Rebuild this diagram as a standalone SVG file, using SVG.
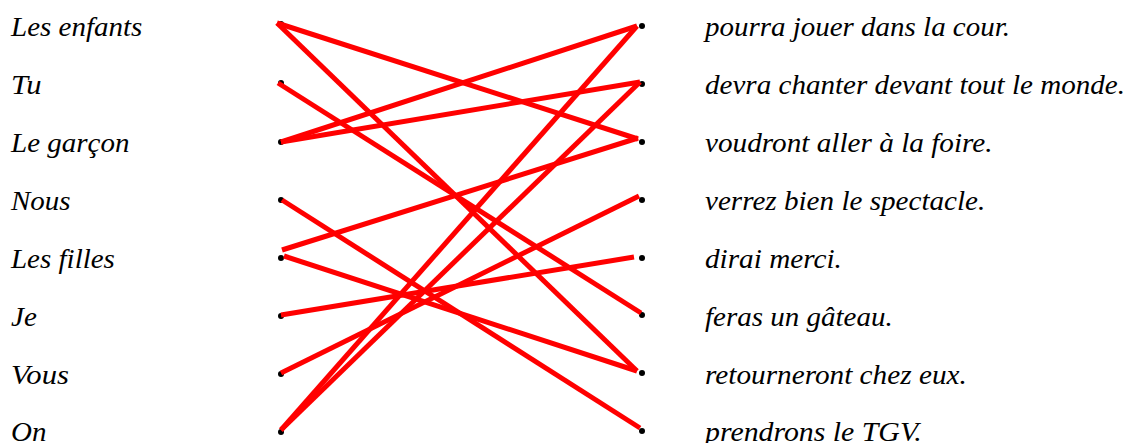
<svg xmlns="http://www.w3.org/2000/svg" width="1132" height="443" viewBox="0 0 1132 443">
<style>
text{font-family:"Liberation Serif","Times New Roman",serif;font-style:italic;font-size:27px;fill:#000}
.dot{fill:#000}
.ln{stroke:#ff0000;stroke-width:5;fill:none;stroke-linecap:butt}
</style>
<rect width="1132" height="443" fill="#fff"/>
<g id="left-1"><text x="11" y="35.5" textLength="131.3" lengthAdjust="spacingAndGlyphs">Les enfants</text><circle class="dot" cx="281" cy="24" r="3"/></g>
<g id="left-2"><text x="11" y="93.5" textLength="30.6" lengthAdjust="spacingAndGlyphs">Tu</text><circle class="dot" cx="281" cy="83" r="3"/></g>
<g id="left-3"><text x="11" y="152" textLength="118.4" lengthAdjust="spacingAndGlyphs">Le garçon</text><circle class="dot" cx="281" cy="142" r="3"/></g>
<g id="left-4"><text x="11" y="210" textLength="59.6" lengthAdjust="spacingAndGlyphs">Nous</text><circle class="dot" cx="281" cy="200" r="3"/></g>
<g id="left-5"><text x="11" y="268" textLength="103.9" lengthAdjust="spacingAndGlyphs">Les filles</text><circle class="dot" cx="281" cy="258" r="3"/></g>
<g id="left-6"><text x="11" y="326" textLength="25.8" lengthAdjust="spacingAndGlyphs">Je</text><circle class="dot" cx="281" cy="316" r="3"/></g>
<g id="left-7"><text x="11" y="384" textLength="58" lengthAdjust="spacingAndGlyphs">Vous</text><circle class="dot" cx="281" cy="374" r="3"/></g>
<g id="left-8"><text x="11" y="441" textLength="35.4" lengthAdjust="spacingAndGlyphs">On</text><circle class="dot" cx="281" cy="432" r="3"/></g>
<g id="right-1"><circle class="dot" cx="642" cy="26" r="3"/><text x="705" y="36" textLength="305" lengthAdjust="spacingAndGlyphs">pourra jouer dans la cour.</text></g>
<g id="right-2"><circle class="dot" cx="642" cy="84" r="3"/><text x="705" y="94" textLength="420" lengthAdjust="spacingAndGlyphs">devra chanter devant tout le monde.</text></g>
<g id="right-3"><circle class="dot" cx="642" cy="142" r="3"/><text x="705" y="152" textLength="287.6" lengthAdjust="spacingAndGlyphs">voudront aller à la foire.</text></g>
<g id="right-4"><circle class="dot" cx="642" cy="200" r="3"/><text x="705" y="210" textLength="280.3" lengthAdjust="spacingAndGlyphs">verrez bien le spectacle.</text></g>
<g id="right-5"><circle class="dot" cx="642" cy="258" r="3"/><text x="705" y="268" textLength="136.9" lengthAdjust="spacingAndGlyphs">dirai merci.</text></g>
<g id="right-6"><circle class="dot" cx="642" cy="315" r="3"/><text x="705" y="326" textLength="187.7" lengthAdjust="spacingAndGlyphs">feras un gâteau.</text></g>
<g id="right-7"><circle class="dot" cx="642" cy="373" r="3"/><text x="705" y="384" textLength="261.8" lengthAdjust="spacingAndGlyphs">retourneront chez eux.</text></g>
<g id="right-8"><circle class="dot" cx="642" cy="431" r="3"/><text x="705" y="441" textLength="216.7" lengthAdjust="spacingAndGlyphs">prendrons le TGV.</text></g>
<g id="connectors">
<line class="ln" x1="277" y1="23" x2="638" y2="139"/>
<line class="ln" x1="277" y1="23" x2="637" y2="371"/>
<line class="ln" x1="278" y1="83" x2="641" y2="313"/>
<line class="ln" x1="281" y1="142" x2="637" y2="26"/>
<line class="ln" x1="281" y1="142" x2="640" y2="82"/>
<line class="ln" x1="282" y1="200" x2="640" y2="428"/>
<line class="ln" x1="282" y1="250" x2="638" y2="138"/>
<line class="ln" x1="284" y1="256" x2="637" y2="371"/>
<line class="ln" x1="281" y1="315" x2="634" y2="257"/>
<line class="ln" x1="281" y1="373" x2="639" y2="196"/>
<line class="ln" x1="281" y1="430" x2="637" y2="26"/>
<line class="ln" x1="281" y1="430" x2="640" y2="82"/>
</g>
</svg>
